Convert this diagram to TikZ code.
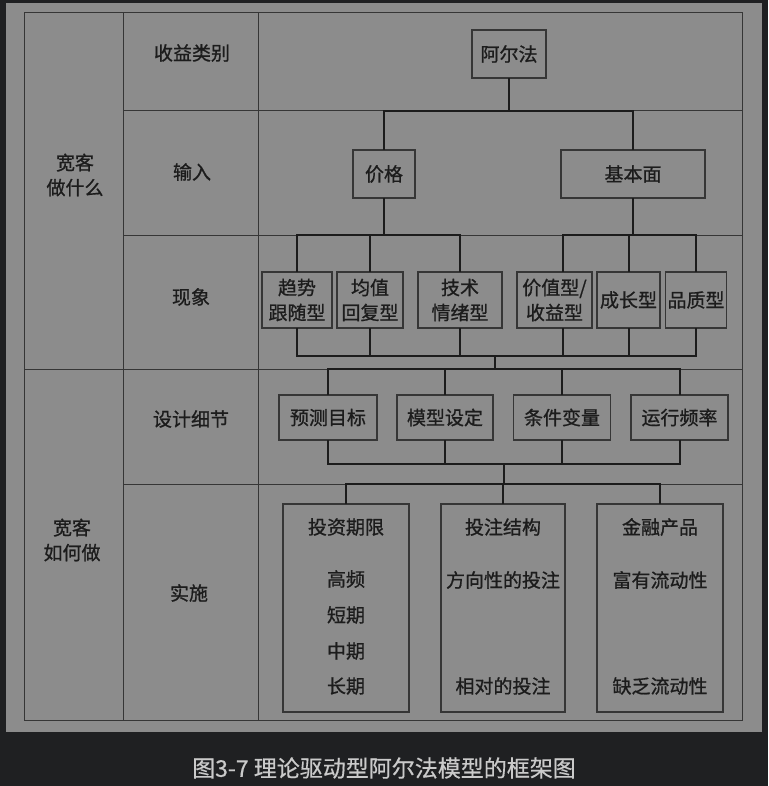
\documentclass[tikz,border=0pt]{standalone}
\usepackage{fontspec}
\setmainfont{Noto Sans CJK SC}[FakeBold=0.9]
\newfontfamily\capfont{Noto Sans CJK SC}[FakeBold=0.5]
\definecolor{bgdark}{HTML}{1F2022}
\definecolor{panel}{HTML}{8C8C8C}
\definecolor{rule}{HTML}{363636}
\definecolor{ink}{HTML}{1C1C1C}
\definecolor{captext}{HTML}{CACACA}
\begin{document}
\begin{tikzpicture}[x=1pt,y=-1pt,
  grid/.style={draw=rule,line width=1pt},
  bus/.style={draw=ink,line width=2pt,line cap=rect},
  box/.style={draw=rule,line width=1.1pt,fill=panel,inner sep=0pt,align=center,
    font=\fontsize{19}{25}\selectfont,text=ink},
  lbl/.style={inner sep=0pt,align=center,font=\fontsize{19}{25}\selectfont,text=ink},
  captionstyle/.style={inner sep=0pt,font=\capfont\fontsize{23}{26}\selectfont,text=captext}]
\useasboundingbox (0,0) rectangle (768,786);
\fill[bgdark] (0,0) rectangle (768,786);
\fill[panel] (6,3) rectangle (762,732);
% table
\draw[grid] (24,13) rectangle (742,720);
\draw[grid] (123,13) -- (123,720);
\draw[grid] (258,13) -- (258,720);
\draw[grid] (123,111) -- (742,111);
\draw[grid] (123,235) -- (742,235);
\draw[grid] (24,369) -- (742,369);
\draw[grid] (123,484) -- (742,484);
% left labels
\node[lbl] (wq1) at (75,175) {宽客\\做什么};
\node[lbl] (wq2) at (72,540) {宽客\\如何做};
\node[lbl] (l1) at (192,53) {收益类别};
\node[lbl] (l2) at (192,172) {输入};
\node[lbl] (l3) at (191,297) {现象};
\node[lbl] (l4) at (191,419) {设计细节};
\node[lbl] (l5) at (189,593) {实施};
% bus junctions
\coordinate (b1) at (509,111);
\coordinate (b2) at (384,235);
\coordinate (b3) at (633,235);
\coordinate (b4) at (495,356);
\coordinate (b5) at (495,369);
\coordinate (b6) at (504,464);
\coordinate (b7) at (504,484);
% boxes
\node[box,minimum width=74,minimum height=48] (alpha) at (509,54) {阿尔法};
\node[box,minimum width=62,minimum height=48] (price) at (384,174) {价格};
\node[box,minimum width=144,minimum height=48] (fund) at (633,174) {基本面};
\node[box,minimum width=70,minimum height=56] (p1) at (297,300) {趋势\\跟随型};
\node[box,minimum width=66,minimum height=56] (p2) at (370,300) {均值\\回复型};
\node[box,minimum width=84,minimum height=56] (p3) at (460,300) {技术\\情绪型};
\node[box,minimum width=75,minimum height=56] (p4) at (554.5,300) {价值型/\\收益型};
\node[box,minimum width=63,minimum height=56] (p5) at (628.5,300) {成长型};
\node[box,minimum width=61,minimum height=56] (p6) at (696,300) {品质型};
\node[box,minimum width=98,minimum height=45] (d1) at (328,417.5) {预测目标};
\node[box,minimum width=96,minimum height=45] (d2) at (445,417.5) {模型设定};
\node[box,minimum width=97,minimum height=45] (d3) at (562,417.5) {条件变量};
\node[box,minimum width=97,minimum height=45] (d4) at (679.5,417.5) {运行频率};
\node[box,minimum width=126,minimum height=208] (i1) at (346,608) {};
\node[box,minimum width=124,minimum height=208] (i2) at (503,608) {};
\node[box,minimum width=126,minimum height=208] (i3) at (660,608) {};
% connectors
\draw[bus] (alpha) -- (b1);
\draw[bus] (price.north) |- (b1) -| (fund.north);
\draw[bus] (price) -- (b2);
\draw[bus] (p1.north) |- (b2) -| (p3.north);
\draw[bus] (p2.north) -- (p2.north |- b2);
\draw[bus] (fund) -- (b3);
\draw[bus] ([xshift=8]p4.north) |- (b3) -| (p6.north);
\draw[bus] (p5.north) -- (p5.north |- b3);
\draw[bus] (p1.south) |- (b4) -| (p6.south);
\draw[bus] (p2.south) -- (p2.south |- b4);
\draw[bus] (p3.south) -- (p3.south |- b4);
\draw[bus] ([xshift=8]p4.south) -- ([xshift=8]p4.south |- b4);
\draw[bus] (p5.south) -- (p5.south |- b4);
\draw[bus] (b4) -- (b5);
\draw[bus] (d1.north) |- (b5) -| (d4.north);
\draw[bus] (d2.north) -- (d2.north |- b5);
\draw[bus] (d3.north) -- (d3.north |- b5);
\draw[bus] (d1.south) |- (b6) -| (d4.south);
\draw[bus] (d2.south) -- (d2.south |- b6);
\draw[bus] (d3.south) -- (d3.south |- b6);
\draw[bus] (b6) -- (b7);
\draw[bus] (i1.north) |- (b7) -| (i3.north);
\draw[bus] (i2.north) -- (i2.north |- b7);
% implementation texts
\node[lbl] (t1) at (346,527) {投资期限};
\node[lbl] (t1a) at (346,579) {高频};
\node[lbl] (t1b) at (346,615) {短期};
\node[lbl] (t1c) at (346,651) {中期};
\node[lbl] (t1d) at (346,686) {长期};
\node[lbl] (t2) at (503,527) {投注结构};
\node[lbl] (t2a) at (503,580) {方向性的投注};
\node[lbl] (t2b) at (503,686) {相对的投注};
\node[lbl] (t3) at (660,527) {金融产品};
\node[lbl] (t3a) at (660,580) {富有流动性};
\node[lbl] (t3b) at (660,686) {缺乏流动性};
% caption
\node[captionstyle] (caption) at (384,768) {图3-7 理论驱动型阿尔法模型的框架图};
\end{tikzpicture}
\end{document}
